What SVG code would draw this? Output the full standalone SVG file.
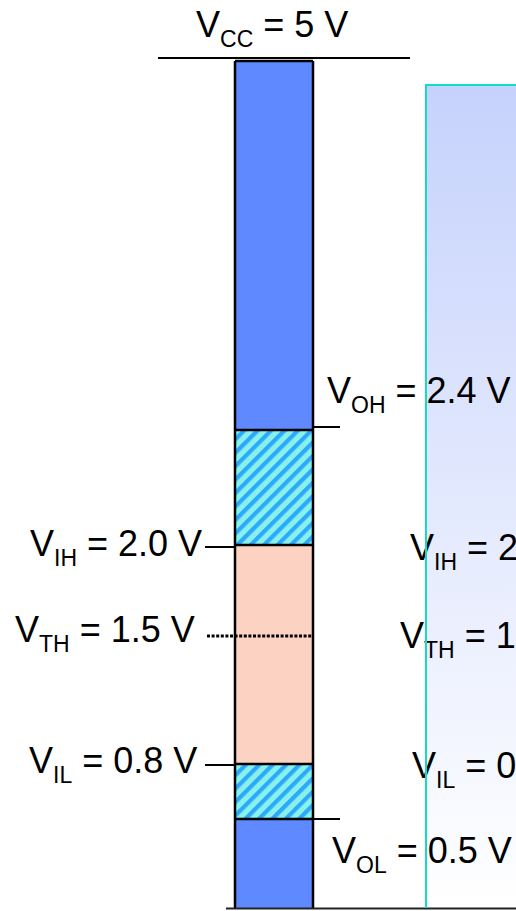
<svg xmlns="http://www.w3.org/2000/svg" width="516" height="911" viewBox="0 0 516 911">
<style>
.lbl{font-family:"Liberation Sans",Arial,sans-serif;font-size:36px;fill:#000}
.sub{font-size:23px}
.tick{stroke:#000;stroke-width:2;fill:none}
.bd{stroke:#000;stroke-width:2.5;fill:none}
</style>
<defs>
<linearGradient id="panelGrad" x1="0" y1="0" x2="0" y2="1">
<stop offset="0" stop-color="#c6d2fc"/>
<stop offset="1" stop-color="#ffffff"/>
</linearGradient>
<pattern id="hatch" width="9.5" height="9.5" patternUnits="userSpaceOnUse" patternTransform="rotate(45)">
<rect width="9.5" height="9.5" fill="#88f2ea"/>
<rect x="0" y="0" width="4.2" height="9.5" fill="#2ca8fc"/>
</pattern>
</defs>
<g id="panel">
<rect x="426" y="85" width="100" height="823" fill="url(#panelGrad)"/>
</g>
<g id="column">
<rect x="235" y="61" width="78" height="369" fill="#5f8aff"/>
<rect x="235" y="430" width="78" height="115" fill="url(#hatch)"/>
<rect x="235" y="545" width="78" height="219" fill="#fcd3c2"/>
<rect x="235" y="764" width="78" height="55" fill="url(#hatch)"/>
<rect x="235" y="819" width="78" height="90" fill="#5f8aff"/>
<line class="bd" x1="235" y1="61" x2="313" y2="61"/>
<line class="bd" x1="235" y1="61" x2="235" y2="909"/>
<line class="bd" x1="313" y1="61" x2="313" y2="909"/>
<line class="bd" x1="235" y1="430" x2="313" y2="430"/>
<line class="bd" x1="235" y1="545" x2="313" y2="545"/>
<line class="bd" x1="235" y1="764" x2="313" y2="764"/>
<line class="bd" x1="235" y1="819" x2="313" y2="819"/>
</g>
<g id="connectors">
<line class="tick" x1="158" y1="58" x2="410" y2="58"/>
<line x1="226" y1="908.5" x2="516" y2="908.5" stroke="#222" stroke-width="2"/>
<line class="tick" x1="313" y1="427" x2="340" y2="427"/>
<line class="tick" x1="205" y1="547" x2="235" y2="547"/>
<line x1="207" y1="636" x2="313" y2="636" stroke="#000" stroke-width="3" stroke-dasharray="3,1.6"/>
<line class="tick" x1="205" y1="765" x2="235" y2="765"/>
<line class="tick" x1="313" y1="819" x2="340" y2="819"/>
</g>
<g id="labels">
<text id="vcc" class="lbl" x="196" y="37">V<tspan class="sub" dy="10">CC</tspan><tspan dy="-10"> = 5 V</tspan></text>
<text id="voh" class="lbl" x="327" y="403">V<tspan class="sub" dy="10">OH</tspan><tspan dy="-10"> = 2.4 V</tspan></text>
<text id="vih" class="lbl" x="30" y="556">V<tspan class="sub" dy="10">IH</tspan><tspan dy="-10"> = 2.0 V</tspan></text>
<text id="vth" class="lbl" x="15" y="642">V<tspan class="sub" dy="10">TH</tspan><tspan dy="-10"> = 1.5 V</tspan></text>
<text id="vil" class="lbl" x="29" y="773">V<tspan class="sub" dy="10">IL</tspan><tspan dy="-10"> = 0.8 V</tspan></text>
<text id="vol" class="lbl" x="332" y="863">V<tspan class="sub" dy="10">OL</tspan><tspan dy="-10"> = 0.5 V</tspan></text>
<text id="vih2" class="lbl" x="410" y="560">V<tspan class="sub" dy="10">IH</tspan><tspan dy="-10"> = 2</tspan></text>
<text id="vth2" class="lbl" x="400" y="648">V<tspan class="sub" dy="10">TH</tspan><tspan dy="-10"> = 1</tspan></text>
<text id="vil2" class="lbl" x="412" y="778">V<tspan class="sub" dy="10">IL</tspan><tspan dy="-10"> = 0</tspan></text>
</g>
<g id="panel-border">
<polyline points="426,908 426,85 516,85" fill="none" stroke="#10dcc8" stroke-width="2"/>
</g>
</svg>
